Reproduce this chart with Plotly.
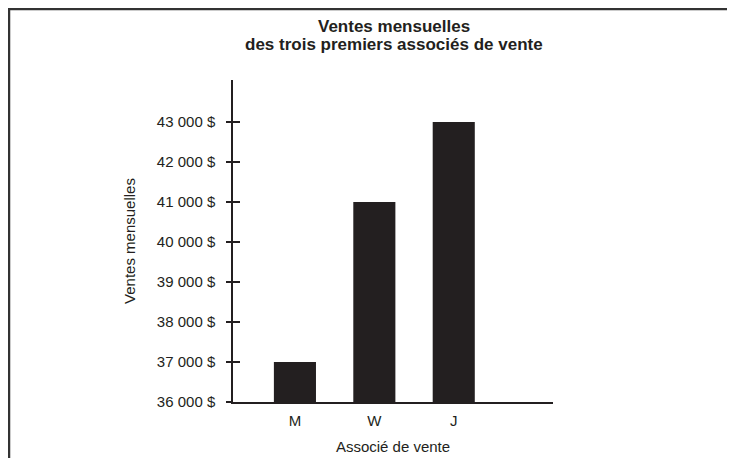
import plotly.graph_objects as go

# données
associes = ["M", "W", "J"]
ventes = [37000, 41000, 43000]
tick_vals = [36000, 37000, 38000, 39000, 40000, 41000, 42000, 43000]
tick_labels = ["36 000 $", "37 000 $", "38 000 $", "39 000 $",
               "40 000 $", "41 000 $", "42 000 $", "43 000 $"]
titre = ["Ventes mensuelles", "des trois premiers associés de vente"]

W, H = 735, 458
ml, mr, mt, mb = 225, 190, 72, 64
ink = "#231f20"

fig = go.Figure()
fig.add_trace(go.Bar(x=associes, y=ventes, width=0.53,
                     marker=dict(color=ink, line=dict(width=0))))
# trace vide sur le 2e axe pour les graduations intérieures
fig.add_trace(go.Scatter(x=associes, y=ventes, yaxis="y2", mode="none",
                         hoverinfo="skip", showlegend=False))

yr = [36000, 44050]
fig.update_layout(
    width=W, height=H,
    margin=dict(l=ml, r=mr, t=mt, b=mb),
    paper_bgcolor="white", plot_bgcolor="white",
    showlegend=False,
    font=dict(family="Liberation Sans, Arial, sans-serif", color="#231f20", size=15),
    xaxis=dict(range=[-0.78, 3.25], showline=True, linecolor=ink, linewidth=1.5,
               ticks="", showgrid=False, zeroline=False, ticklabelstandoff=4,
               title=dict(text="Associé de vente", standoff=14, font=dict(size=15)),
               tickfont=dict(size=15)),
    yaxis=dict(range=yr, tickvals=tick_vals, ticktext=tick_labels,
               showline=True, linecolor=ink, linewidth=1.5,
               ticks="outside", ticklen=5, tickwidth=1.5, tickcolor=ink,
               ticklabelstandoff=8,
               showgrid=False, zeroline=False,
               title=dict(text="Ventes mensuelles", standoff=18, font=dict(size=15)),
               tickfont=dict(size=15)),
    yaxis2=dict(range=yr, tickvals=tick_vals, overlaying="y", side="left",
                showticklabels=False, ticks="inside", ticklen=7, tickwidth=1.5,
                tickcolor=ink, showgrid=False, zeroline=False, showline=False),
)

# titre sur deux lignes, en annotations pour régler l'interligne
pw, ph = W - ml - mr, H - mt - mb
for i, ligne in enumerate(titre):
    fig.add_annotation(text=f"<b>{ligne}</b>", xref="paper", yref="paper",
                       x=(386 - ml) / pw, y=(H - mb - (18 + 19 * i)) / ph,
                       xanchor="center", yanchor="middle", showarrow=False,
                       font=dict(size=17))

# cadre (haut et gauche)
x0 = (1 - ml) / pw
y0 = (H - mb - 1) / ph
y_bot = -(mb + 5) / ph
fig.add_shape(type="path", xref="paper", yref="paper",
              path=f"M {x0} {y_bot} L {x0} {y0} L {(W + 5 - ml) / pw} {y0}",
              line=dict(color="#333333", width=2.5))

fig.write_html("out.html")
